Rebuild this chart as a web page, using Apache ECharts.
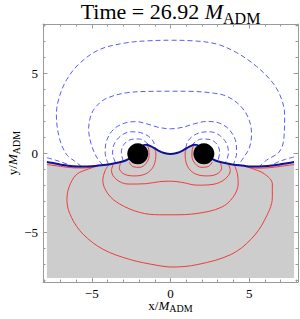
<!DOCTYPE html>
<html><head><meta charset="utf-8">
<script src="https://cdn.jsdelivr.net/npm/echarts@6/dist/echarts.min.js"></script>
<style>html,body{margin:0;padding:0;background:#fff}#c{width:300px;height:319px}</style>
</head><body><div id="c"></div>
<script>
// ---- data (x, y in M_ADM units) ----
const titleText = 'Time = 26.92 ';
const bhX = [-2.08, 2.12];
const bhY = [-0.05, -0.05];
const majorTicks = [-5, 0, 5];
const minorTicks = [-8, -7, -6, -4, -3, -2, -1, 1, 2, 3, 4, 6, 7, 8];
const dataEdge = 7.85;

// boundary of the shaded region (thick line)
const boundary = [[-7.85,-0.57],[-7.4,-0.64],[-6.8,-0.76],[-6.2,-0.83],[-5.6,-0.85],[-5.0,-0.83],[-4.4,-0.77],[-3.85,-0.7],[-3.3,-0.6],[-2.85,-0.47],[-2.55,-0.3],[-2.1,0.05],[-1.7,0.5],[-1.5,0.52],[-1.2,0.4],[-0.8,0.17],[-0.4,0.0],[0,-0.07],[0.4,0.0],[0.8,0.17],[1.2,0.4],[1.5,0.52],[1.7,0.5],[2.1,0.05],[2.55,-0.3],[2.85,-0.47],[3.3,-0.6],[3.85,-0.7],[4.4,-0.77],[5.0,-0.84],[5.6,-0.85],[6.2,-0.82],[6.8,-0.74],[7.4,-0.64],[7.85,-0.57]];

// blue dashed contours (upper side)
const blueA0L = [[-7.85,-0.3],[-7.3,-0.45],[-6.7,-0.65],[-6.3,-0.8]];
const blueA0R = [[7.85,-0.25],[7.3,-0.4],[6.8,-0.58],[6.4,-0.78]];
const blueA = [[-5.65,-0.85],[-6.1,-0.5],[-6.6,-0.1],[-7.05,0.9],[-7.25,2.4],[-7.1,3.4],[-6.6,4.6],[-5.75,5.65],[-4.5,6.5],[-2.8,6.92],[-1.3,7.05],[0,7.08],[1.3,7.05],[2.9,6.85],[4.2,6.3],[5.45,5.45],[6.5,4.4],[7.05,3.4],[7.25,2.4],[7.2,0.9],[6.9,0.06],[6.1,-0.45],[5.65,-0.84]];
const blueB = [[-4.3,-0.76],[-4.7,-0.25],[-5.05,0.6],[-5.2,1.5],[-5.0,2.5],[-4.5,3.15],[-3.9,3.5],[-2.8,3.78],[-1.3,3.87],[0,3.88],[1.3,3.87],[2.8,3.75],[3.6,3.55],[4.4,3.0],[4.95,2.2],[5.15,1.2],[5.0,0.3],[4.6,-0.35],[4.3,-0.77]];
const blueC = [[-3.95,-0.69],[-4.15,0.0],[-4.05,0.8],[-3.6,1.5],[-2.9,1.88],[-2.2,1.97],[-1.5,1.83],[-0.8,1.62],[0,1.52],[0.8,1.62],[1.5,1.83],[2.3,1.98],[3.1,1.88],[3.75,1.45],[4.15,0.7],[4.2,0.0],[4.0,-0.71]];
const blueDL = [[-3.5,-0.59],[-3.68,0.0],[-3.55,0.62],[-3.1,1.12],[-2.5,1.33],[-1.9,1.28],[-1.4,1.05],[-1.08,0.7],[-0.98,0.3]];
const blueDR = [[0.98,0.3],[1.08,0.7],[1.4,1.05],[1.9,1.28],[2.5,1.33],[3.1,1.12],[3.55,0.62],[3.68,0.0],[3.5,-0.59]];
const blueEL = [[-3.0,-0.52],[-3.12,0.05],[-2.95,0.55],[-2.5,0.85],[-1.98,0.88],[-1.58,0.7],[-1.35,0.46]];
const blueER = [[1.35,0.46],[1.58,0.7],[1.98,0.88],[2.5,0.85],[2.95,0.55],[3.12,0.05],[3.0,-0.52]];

// red solid contours (lower side)
const redR0L = [[-7.85,-0.72],[-7.0,-0.84],[-6.2,-0.93],[-5.5,-0.94],[-4.9,-0.88]];
const redR0R = [[7.85,-0.72],[7.0,-0.84],[6.2,-0.93],[5.5,-0.95],[4.95,-0.9]];
const redR1 = [[-4.55,-0.79],[-5.2,-1.0],[-5.97,-1.35],[-6.45,-2.15],[-6.58,-2.99],[-6.29,-4.05],[-5.55,-5.1],[-4.28,-6.05],[-2.6,-6.68],[-0.92,-7.04],[0.1,-7.16],[1.74,-7.0],[3.85,-6.37],[5.11,-5.42],[5.95,-4.26],[6.47,-2.78],[6.47,-1.94],[5.95,-1.3],[5.1,-0.95],[4.55,-0.78]];
const redR2 = [[-3.9,-0.71],[-4.15,-1.1],[-4.3,-1.73],[-3.97,-2.57],[-3.23,-3.2],[-1.96,-3.73],[-0.7,-3.88],[0.14,-3.88],[1.74,-3.79],[3.23,-3.41],[3.97,-2.78],[4.3,-1.94],[4.25,-1.3],[4.05,-0.73]];
const redR3 = [[-3.6,-0.62],[-3.75,-1.1],[-3.45,-1.65],[-2.7,-1.95],[-1.6,-1.93],[-0.7,-1.8],[0,-1.77],[0.7,-1.84],[1.7,-2.02],[2.7,-1.97],[3.45,-1.65],[3.8,-1.1],[3.65,-0.63]];
const redL2L = [[-3.15,-0.56],[-3.25,-0.95],[-2.95,-1.32],[-2.3,-1.44],[-1.6,-1.32],[-1.15,-0.95],[-0.95,-0.4],[-0.93,0.0],[-1.0,0.26]];
const redL2R = [[1.0,0.26],[0.93,0.0],[0.95,-0.4],[1.15,-0.95],[1.6,-1.32],[2.3,-1.44],[2.95,-1.32],[3.25,-0.95],[3.15,-0.56]];
const redL1L = [[-2.62,-0.58],[-2.38,-0.86],[-1.95,-0.9],[-1.56,-0.66],[-1.36,-0.2],[-1.38,0.22],[-1.5,0.5]];
const redL1R = [[1.5,0.5],[1.38,0.22],[1.36,-0.2],[1.56,-0.66],[1.95,-0.9],[2.38,-0.86],[2.66,-0.58]];

const blueSet = [blueA0L, blueA0R, blueA, blueB, blueC, blueDL, blueDR, blueEL, blueER];
const redSet = [redR0L, redR0R, redR1, redR2, redR3, redL2L, redL2R, redL1L, redL1R];

// ---- chart ----
const chart = echarts.init(document.getElementById('c'), null, {renderer: 'svg'});
const serif = 'Liberation Serif, Times New Roman, serif';
const frameColor = '#9a9a9a';
const minus = v => String(v).replace('-', '\u2212');
function mkX(pos, major, showLine, showLabel) {
  return {
    type: 'value', min: -8.1, max: 8.1, position: pos,
    axisLine: {show: showLine, onZero: false, lineStyle: {color: frameColor, width: 1}},
    axisTick: {show: true, inside: true, length: major ? 4.5 : 2.5, customValues: major ? majorTicks : minorTicks, lineStyle: {color: frameColor}},
    axisLabel: {show: showLabel, customValues: majorTicks, formatter: minus, fontFamily: serif, fontSize: 13, color: '#000', margin: 5},
    splitLine: {show: false}
  };
}
const grid = {left: 43, right: 2, top: 24, bottom: 37};
const polyPts = boundary.concat([[dataEdge, -dataEdge], [-dataEdge, -dataEdge]]);

const series = [];
series.push({
  type: 'custom', silent: true, z: 1,
  data: [0],
  renderItem: (params, api) => ({
    type: 'polygon',
    shape: {points: polyPts.map(p => api.coord(p))},
    style: {fill: '#cdcdcd'}
  })
});
redSet.forEach(d => series.push({type: 'line', data: d, smooth: 0.35, showSymbol: false, silent: true, z: 2,
  lineStyle: {color: '#f03c3c', width: 1}}));
blueSet.forEach(d => series.push({type: 'line', data: d, smooth: 0.35, showSymbol: false, silent: true, z: 3,
  lineStyle: {color: '#5a5aff', width: 1, type: [5, 3]}}));
series.push({type: 'line', data: boundary, smooth: 0.2, showSymbol: false, silent: true, z: 4,
  lineStyle: {color: '#10109a', width: 2}});
series.push({type: 'scatter', data: bhX.map((x, i) => [x, bhY[i]]), symbolSize: 21, silent: true, z: 5,
  itemStyle: {color: '#000', opacity: 1}});

chart.setOption({
  animation: false,
  grid: grid,
  xAxis: [mkX('bottom', true, true, true), mkX('bottom', false, false, false), mkX('top', true, true, false), mkX('top', false, false, false)],
  yAxis: [mkX('left', true, true, true), mkX('left', false, false, false), mkX('right', true, true, false), mkX('right', false, false, false)],
  series: series,
  graphic: [
    {type: 'text', x: 170.5, y: -3, style: {
      text: '{a|' + titleText + '}{m|M}{s|ADM}', align: 'center', verticalAlign: 'top',
      rich: {
        a: {fontFamily: serif, fontSize: 22, lineHeight: 29, fill: '#000'},
        m: {fontFamily: serif, fontSize: 22, lineHeight: 29, fontStyle: 'italic', fill: '#000'},
        s: {fontFamily: serif, fontSize: 16, lineHeight: 16, verticalAlign: 'bottom', fill: '#000'}
      }}},
    {type: 'text', x: 170.5, y: 297, style: {
      text: '{a|x/}{m|M}{s|ADM}', align: 'center', verticalAlign: 'top',
      rich: {
        a: {fontFamily: serif, fontSize: 13, lineHeight: 16, fill: '#000'},
        m: {fontFamily: serif, fontSize: 13, lineHeight: 16, fontStyle: 'italic', fill: '#000'},
        s: {fontFamily: serif, fontSize: 10, lineHeight: 10, verticalAlign: 'bottom', fill: '#000'}
      }}},
    {type: 'text', x: 3, y: 153, rotation: Math.PI / 2, style: {
      text: '{a|y/}{m|M}{s|ADM}', align: 'center', verticalAlign: 'top',
      rich: {
        a: {fontFamily: serif, fontSize: 13, lineHeight: 18, fill: '#000'},
        m: {fontFamily: serif, fontSize: 13, lineHeight: 18, fontStyle: 'italic', fill: '#000'},
        s: {fontFamily: serif, fontSize: 10, lineHeight: 10, verticalAlign: 'bottom', fill: '#000'}
      }}}
  ]
});
</script></body></html>
